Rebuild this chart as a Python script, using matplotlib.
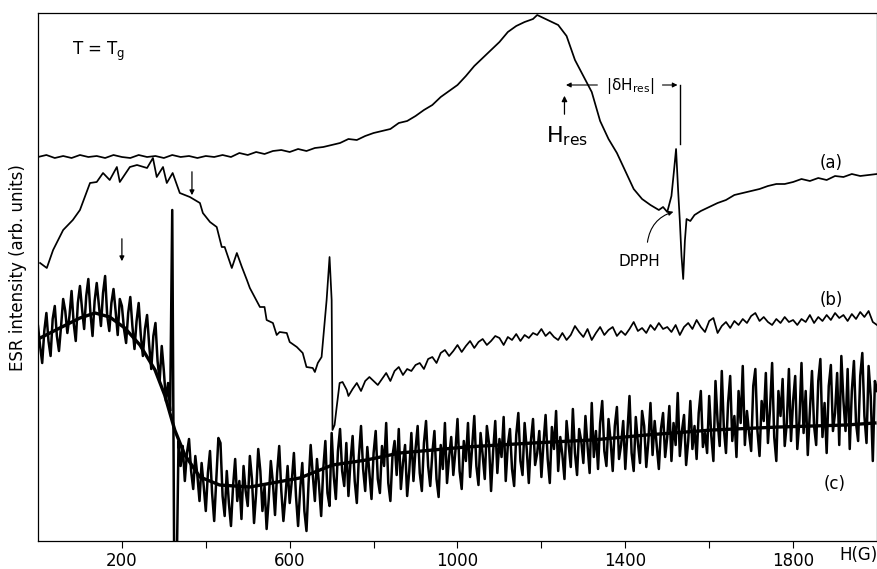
import numpy as np
import matplotlib
matplotlib.use("Agg")
import matplotlib.pyplot as plt

# ---- data (field H in gauss, ESR intensity in arbitrary units) ----
a_field = [0, 20, 40, 60, 80, 100, 120, 140, 160, 180, 200, 220, 240, 260, 280, 300, 320, 340, 360,
           380, 400, 420, 440, 460, 480, 500, 520, 540, 560, 580, 600, 620, 640, 660, 680, 700, 720,
           740, 760, 780, 800, 820, 840, 860, 880, 900, 920, 940, 960, 980, 1000, 1020, 1040, 1060,
           1080, 1100, 1120, 1140, 1160, 1180, 1190, 1200, 1220, 1240, 1260, 1280, 1300, 1320, 1340,
           1360, 1380, 1400, 1420, 1440, 1460, 1480, 1490, 1500, 1510, 1516, 1521, 1526, 1530, 1534,
           1538, 1542, 1546, 1555, 1565, 1580, 1600, 1620, 1640, 1660, 1680, 1700, 1720, 1740, 1760,
           1780, 1800, 1820, 1840, 1860, 1880, 1900, 1920, 1940, 1960, 1980, 2000]
a_signal = [384, 386, 383, 385, 383, 386, 384, 385, 383, 386, 384, 383, 386, 384, 385, 383, 386, 384,
            385, 383, 385, 384, 386, 384, 388, 386, 389, 387, 390, 391, 389, 392, 390, 393, 394, 396,
            398, 402, 401, 405, 408, 410, 412, 418, 420, 425, 431, 436, 444, 450, 456, 465, 475, 483,
            491, 499, 509, 515, 519, 522, 526, 524, 520, 516, 505, 481, 465, 449, 420, 402, 388, 370,
            352, 342, 336, 331, 334, 329, 345, 370, 392, 350, 320, 285, 262, 300, 322, 320, 326, 330,
            334, 338, 341, 346, 348, 350, 352, 355, 357, 357, 359, 362, 360, 363, 361, 365, 364, 367,
            365, 366, 367]

b_field = [5, 21, 36, 60, 83, 100, 124, 140, 155, 171, 188, 195, 219, 236, 260, 274, 283, 298, 307,
           321, 338, 362, 386, 393, 410, 426, 438, 445, 462, 474, 486, 498, 505, 529, 540, 545, 560,
           569, 576, 593, 600, 617, 631, 640, 655, 660, 667, 676, 688, 695, 700, 702, 707, 712, 719,
           726, 736, 740, 750, 760, 770, 780, 790, 800, 810, 820, 830, 840, 850, 860, 870, 880, 890,
           900, 910, 920, 930, 940, 950, 960, 970, 980, 990, 1000, 1010, 1020, 1030, 1040, 1050,
           1060, 1070, 1080, 1090, 1100, 1110, 1120, 1130, 1140, 1150, 1160, 1170, 1180, 1190, 1200,
           1210, 1220, 1230, 1240, 1250, 1260, 1270, 1280, 1290, 1300, 1310, 1320, 1330, 1340, 1350,
           1360, 1370, 1380, 1390, 1400, 1410, 1420, 1430, 1440, 1450, 1460, 1470, 1480, 1490, 1500,
           1510, 1520, 1530, 1540, 1550, 1560, 1570, 1580, 1590, 1600, 1610, 1620, 1630, 1640, 1650,
           1660, 1670, 1680, 1690, 1700, 1710, 1720, 1730, 1740, 1750, 1760, 1770, 1780, 1790, 1800,
           1810, 1820, 1830, 1840, 1850, 1860, 1870, 1880, 1890, 1900, 1910, 1920, 1930, 1940, 1950,
           1960, 1970, 1980, 1990, 2000]
b_signal = [278, 273, 291, 311, 321, 331, 358, 359, 368, 361, 374, 359, 374, 376, 373, 383, 364, 374,
            358, 368, 348, 344, 338, 328, 319, 314, 294, 294, 273, 288, 274, 261, 253, 234, 234, 221,
            218, 206, 209, 208, 199, 194, 188, 174, 173, 169, 178, 184, 241, 284, 241, 111, 116, 134,
            158, 159, 151, 145, 152, 158, 150, 160, 164, 160, 156, 162, 168, 160, 170, 174, 166, 172,
            170, 176, 178, 172, 182, 184, 178, 188, 191, 185, 190, 196, 189, 195, 200, 193, 199, 202,
            196, 200, 205, 203, 196, 204, 201, 207, 200, 206, 203, 208, 206, 212, 205, 209, 204, 201,
            208, 201, 206, 215, 209, 204, 212, 201, 208, 214, 206, 211, 214, 205, 210, 206, 212, 219,
            210, 213, 208, 216, 211, 218, 212, 214, 209, 216, 206, 214, 218, 212, 221, 214, 209, 220,
            223, 208, 215, 219, 213, 220, 216, 222, 218, 225, 228, 220, 224, 219, 216, 222, 218, 224,
            219, 221, 216, 222, 219, 226, 218, 224, 220, 226, 221, 228, 223, 226, 220, 227, 222, 229,
            224, 230, 219, 216]

# curve (c), sampled every 5 G
c_field = np.arange(0, 2001, 5)
c_signal = [215, 195, 178, 210, 228, 200, 185, 222, 235, 205, 190, 215, 242, 230, 208, 225, 250, 218, 200, 238,
            255, 232, 212, 245, 262, 228, 205, 240, 258, 236, 215, 248, 265, 225, 210, 238, 252, 230, 206, 242,
            235, 212, 198, 228, 244, 215, 192, 220, 238, 206, 185, 212, 226, 196, 172, 205, 218, 180, 160, 195,
            170, 140, 158, 130, 331, -50, -50, 100, 75, 95, 60, 88, 102, 70, 52, 85, 65, 40, 78, 55,
            30, 68, 90, 48, 20, 62, 103, 98, 45, 25, 70, 38, 15, 55, 82, 40, 60, 22, 75, 50,
            35, 85, 62, 18, 48, 92, 70, 30, 55, 12, 42, 80, 58, 26, 68, 95, 50, 20, 45, 75,
            38, 60, 88, 45, 15, 52, 78, 30, 10, 58, 96, 66, 40, 82, 55, 25, 72, 100, 48, 35,
            108, 65, 42, 90, 112, 70, 55, 98, 45, 80, 105, 60, 38, 85, 115, 72, 50, 94, 68, 42,
            88, 110, 62, 48, 95, 75, 118, 58, 40, 85, 100, 66, 112, 52, 78, 96, 45, 70, 108, 60,
            92, 115, 68, 50, 98, 120, 75, 55, 88, 110, 62, 44, 96, 72, 118, 58, 84, 104, 66, 90,
            122, 70, 52, 100, 80, 118, 64, 95, 125, 75, 56, 108, 86, 62, 115, 98, 50, 90, 120, 68,
            102, 84, 124, 60, 96, 112, 72, 55, 106, 128, 80, 66, 118, 92, 58, 100, 122, 76, 88, 110,
            64, 98, 126, 82, 58, 114, 92, 130, 70, 104, 86, 62, 120, 96, 74, 132, 88, 66, 112, 100,
            78, 125, 95, 68, 138, 84, 110, 72, 118, 140, 90, 75, 122, 100, 70, 115, 134, 82, 96, 120,
            72, 108, 145, 88, 70, 124, 98, 78, 130, 115, 74, 100, 138, 86, 120, 95, 72, 112, 128, 84,
            104, 135, 80, 118, 96, 148, 85, 110, 126, 76, 100, 140, 92, 115, 82, 128, 150, 94, 108, 88,
            145, 105, 80, 160, 120, 95, 170, 112, 88, 138, 165, 100, 125, 84, 150, 118, 175, 96, 130, 108,
            90, 155, 172, 110, 85, 140, 120, 168, 98, 132, 178, 104, 80, 150, 125, 162, 95, 118, 172, 100,
            140, 165, 92, 120, 178, 108, 150, 86, 130, 170, 115, 96, 160, 182, 104, 138, 88, 155, 176, 110,
            128, 168, 96, 185, 140, 110, 172, 92, 150, 180, 118, 100, 165, 188, 125, 98, 175, 145, 80, 160,
            150]

fit_field = [5, 52, 100, 136, 171, 207, 243, 279, 302, 326, 350, 386, 433, 505, 624, 702, 783,
             862, 1021, 1179, 1321, 1450, 1607, 1767, 1926, 1995]
fit_signal = [203, 213, 223, 228, 224, 213, 196, 171, 146, 111, 86, 64, 56, 54, 63, 76, 81,
              88, 94, 98, 101, 106, 111, 114, 116, 118]

tick_pos = [200, 400, 600, 800, 1000, 1200, 1400, 1600, 1800]
tick_txt = ['200', '', '600', '', '1000', '', '1400', '', '1800']

plt.rcParams['font.family'] = ['DejaVu Sans']

fig = plt.figure(figsize=(8.78, 5.69), dpi=100, facecolor='white')
ax = fig.add_axes([38 / 878, 28 / 569, 839 / 878, 528 / 569])

ax.plot(a_field, a_signal, color='black', lw=1.25)
ax.plot(b_field, b_signal, color='black', lw=1.25)
ax.plot(c_field, c_signal, color='black', lw=1.8)
ax.plot(fit_field, fit_signal, color='black', lw=2.4)

ax.set_xlim(0, 2000)
ax.set_ylim(0, 528)
ax.set_yticks([])
ax.set_xticks(tick_pos)
ax.set_xticklabels(tick_txt, fontsize=12)
ax.tick_params(axis='x', direction='out', length=5, width=0.8, pad=3)
for s in ax.spines.values():
    s.set_linewidth(0.9)

ax.text(0.978, -0.027, 'H(G)', transform=ax.transAxes, ha='center', va='center', fontsize=12)
fig.text(18 / 878, 1 - 268 / 569, 'ESR intensity (arb. units)', rotation=90,
         ha='center', va='center', fontsize=12)

# annotations
ax.text(80, 490, r'T = $\mathregular{T_g}$', fontsize=12, ha='left', va='center')
ax.text(1262, 405, r'$\mathregular{H_{res}}$', fontsize=16, ha='center', va='center')
ax.annotate('', xy=(1255, 448), xytext=(1255, 424),
            arrowprops=dict(arrowstyle='-|>', color='black', lw=0.9, mutation_scale=8))
ax.text(1412, 455, r'|$\mathregular{\delta H_{res}}$|', fontsize=11, ha='center', va='center')
ax.annotate('', xy=(1252, 456), xytext=(1340, 456),
            arrowprops=dict(arrowstyle='-|>', color='black', lw=0.8, mutation_scale=7))
ax.annotate('', xy=(1531, 456), xytext=(1482, 456),
            arrowprops=dict(arrowstyle='-|>', color='black', lw=0.8, mutation_scale=7))
ax.plot([1531, 1531], [456, 397], color='black', lw=1.0)

ax.text(1433, 279, 'DPPH', fontsize=11, ha='center', va='center')
ax.annotate('', xy=(1521, 330), xytext=(1452, 296),
            arrowprops=dict(arrowstyle='-|>', color='black', lw=0.8, mutation_scale=7,
                            connectionstyle='arc3,rad=-0.35'))

ax.annotate('', xy=(367, 343), xytext=(367, 372),
            arrowprops=dict(arrowstyle='-|>', color='black', lw=0.9, mutation_scale=7))
ax.annotate('', xy=(200, 277), xytext=(200, 305),
            arrowprops=dict(arrowstyle='-|>', color='black', lw=0.9, mutation_scale=7))

ax.text(1890, 378, '(a)', fontsize=12, ha='center', va='center')
ax.text(1890, 241, '(b)', fontsize=12, ha='center', va='center')
ax.text(1900, 57, '(c)', fontsize=12, ha='center', va='center')

fig.savefig('out.png', dpi=100)
